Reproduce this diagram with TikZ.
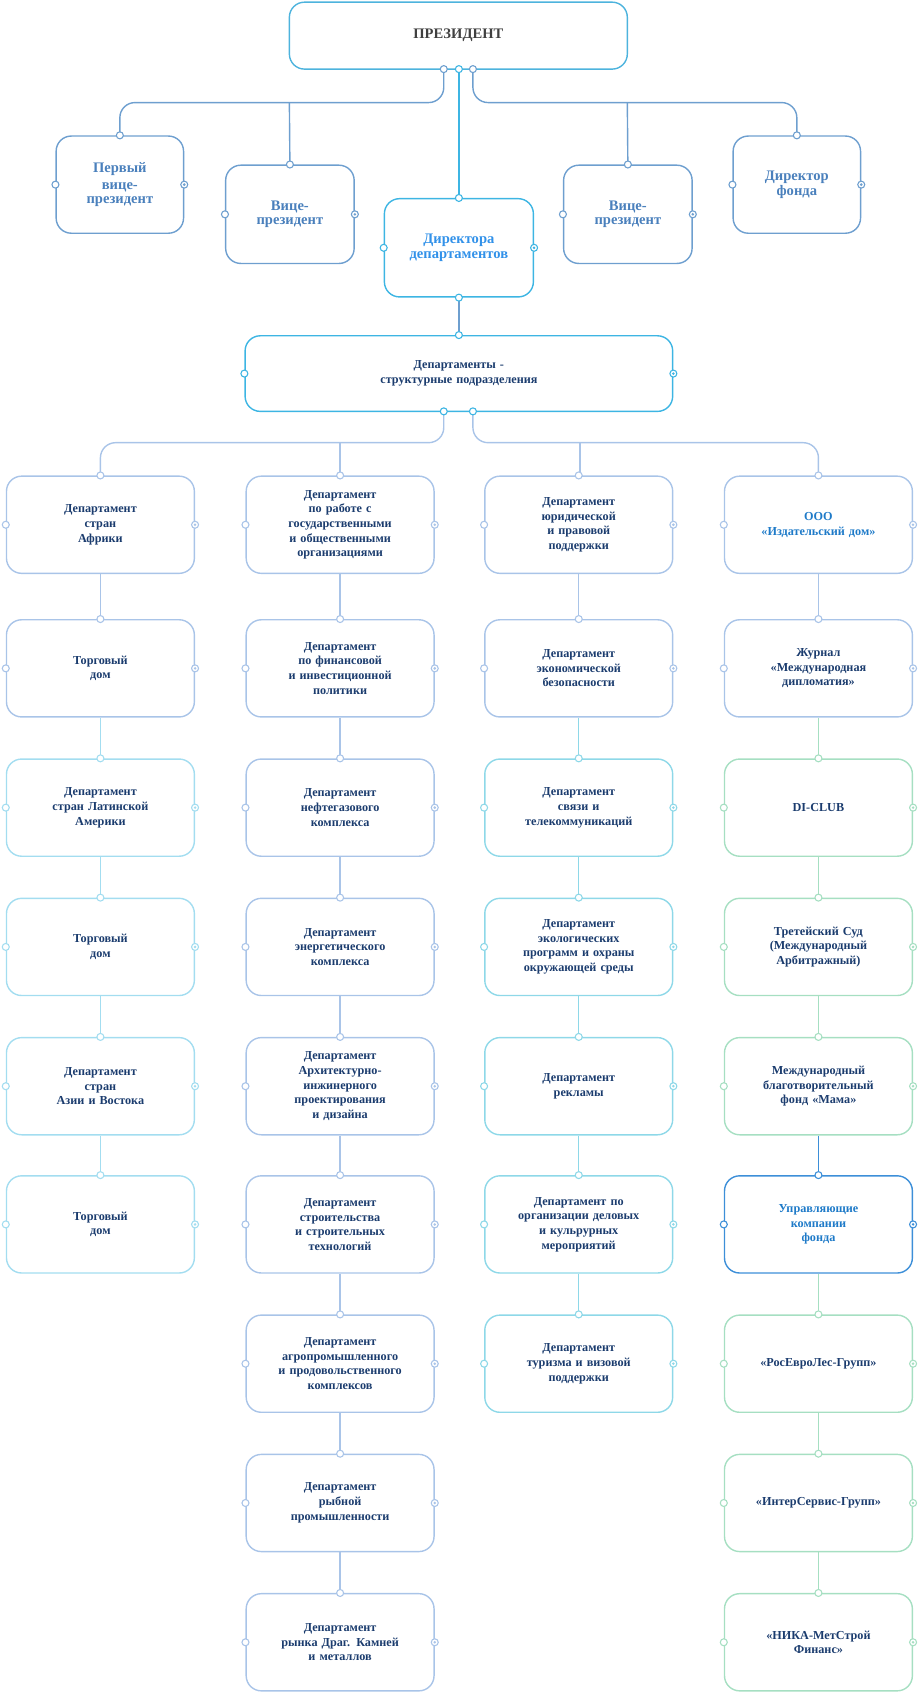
\documentclass[tikz,border=0pt]{standalone}
\usepackage{fontspec}
\setmainfont{Liberation Serif}
\definecolor{cp}{HTML}{4DB3DD}
\definecolor{cs}{HTML}{6E9FCF}
\definecolor{cd}{HTML}{3DB5E3}
\definecolor{cb}{HTML}{A9C4E8}
\definecolor{cy}{HTML}{A3DDF0}
\definecolor{cc}{HTML}{8ED8E8}
\definecolor{cg}{HTML}{A6DFC2}
\definecolor{cu}{HTML}{3D8FD8}
\definecolor{tn}{HTML}{1B3C6E}
\definecolor{ts}{HTML}{4A80BC}
\definecolor{tb}{HTML}{1E7AC8}
\tikzset{
 box/.style={draw=#1, line width=1.3pt, rounded corners=14pt, align=center, inner sep=2pt,
   font=\bfseries\fontsize{11.3}{13.6}\selectfont, text=tn},
 dot/.style={circle, draw=#1, fill=white, line width=1pt, inner sep=0pt, minimum size=6.5pt},
 tdot/.style={circle, draw=#1, fill=white, line width=1pt, inner sep=0pt, minimum size=6.5pt,
   path picture={\fill[#1] (path picture bounding box.center) circle (1.3pt);}},
 ln/.style={draw=#1, line width=1.3pt, rounded corners=14pt}
}
\newcommand\bx[7]{% name, x, y, w, h, color, text
 \node[box=#6, minimum width=#4pt, minimum height=#5pt, text width=#4pt-6pt] (#1) at (#2,#3) {#7};
 \node[dot=#6] at (#1.west) {};
 \node[tdot=#6] at (#1.east) {};
}
\begin{document}
\begin{tikzpicture}[x=1pt,y=-1pt]
\useasboundingbox (0,0) rectangle (852,1568);
% president
\node[box=cp, minimum width=313pt, minimum height=62pt, font=\bfseries\fontsize{13.5}{15}\selectfont, text=black!75] (pres) at (424.5,33) {ПРЕЗИДЕНТ};
\coordinate (pl) at (411,64); \coordinate (pm) at (425,64); \coordinate (pr) at (438,64);
% row 2
\bx{vp1}{111}{171}{118}{90}{cs}{\textcolor{ts}{\fontsize{13.5}{15.5}\selectfont Первый\\вице-\\президент}}
\bx{vp2}{268.5}{198.5}{119}{91}{cs}{\textcolor{ts}{\fontsize{13.5}{15.5}\selectfont Вице-\\президент}}
\bx{dir}{425}{229.5}{138}{91}{cd}{\textcolor{cd!80!blue}{\fontsize{13.5}{15.5}\selectfont Директора\\департаментов}}
\bx{vp3}{581.5}{198.5}{119}{91}{cs}{\textcolor{ts}{\fontsize{13.5}{15.5}\selectfont Вице-\\президент}}
\bx{fd}{738}{171}{118}{90}{cs}{\textcolor{ts}{\fontsize{13.5}{15.5}\selectfont Директор\\фонда}}
\draw[ln=cs] (pl) |- (111,95) -- (vp1.north);
\draw[ln=cs] (268,95) -- (vp2.north);
\draw[ln=cs] (pr) |- (738,95) -- (fd.north);
\draw[ln=cs] (581,95) -- (vp3.north);
\draw[ln=cd] (pm) -- (dir.north);
\bx{deps}{425}{346}{396}{70}{cd}{Департаменты -\\структурные подразделения}
\draw[ln=cs] (dir.south) -- (deps.north);
\coordinate (dl) at (411,381); \coordinate (dr) at (438,381);
\draw[ln=cb] (dl) |- (93,410) -- (93,441);
\draw[ln=cb] (315,410) -- (315,441);
\draw[ln=cb] (dr) |- (758,410) -- (758,441);
\draw[ln=cb] (537,410) -- (537,441);
% columns
\newcommand\col[3]{% prefix, x, list
 \foreach \t/\c/\y [count=\i] in {#3} {
   \bx{#1\i}{#2}{\y}{174}{90}{\c}{\t}
 }
}
\col{a}{93}{
 {Департамент\\стран\\Африки}/cb/486,
 {Торговый\\дом}/cb/619,
 {Департамент\\стран Латинской\\Америки}/cy/748,
 {Торговый\\дом}/cy/877,
 {Департамент\\стран\\Азии и Востока}/cy/1006,
 {Торговый\\дом}/cy/1134}
\col{b}{315}{
 {Департамент\\по работе с\\государственными\\и общественными\\организациями}/cb/486,
 {Департамент\\по финансовой\\и инвестиционной\\политики}/cb/619,
 {Департамент\\нефтегазового\\комплекса}/cb/748,
 {Департамент\\энергетического\\комплекса}/cb/877,
 {Департамент\\Архитектурно-\\инжинерного\\проектирования\\и дизайна}/cb/1006,
 {Департамент\\строительства\\и строительных\\технологий}/cb/1134,
 {Департамент\\агропромышленного\\и продовольственного\\комплексов}/cb/1263,
 {Департамент\\рыбной\\промышленности}/cb/1392,
 {Департамент\\рынка Драг. Камней\\и металлов}/cb/1521}
\col{c}{536}{
 {Департамент\\юридической\\и правовой\\поддержки}/cb/486,
 {Департамент\\экономической\\безопасности}/cb/619,
 {Департамент\\связи и\\телекоммуникаций}/cc/748,
 {Департамент\\экологических\\программ и охраны\\окружающей среды}/cc/877,
 {Департамент\\рекламы}/cc/1006,
 {Департамент по\\организации деловых\\и кульрурных\\мероприятий}/cc/1134,
 {Департамент\\туризма и визовой\\поддержки}/cc/1263}
\col{d}{758}{
 {\textcolor{tb}{ООО\\«Издательский дом»}}/cb/486,
 {Журнал\\«Международная\\дипломатия»}/cb/619,
 {DI-CLUB}/cg/748,
 {Третейский Суд\\(Международный\\Арбитражный)}/cg/877,
 {Международный\\благотворительный\\фонд «Мама»}/cg/1006,
 {\textcolor{tb}{Управляющие\\компании\\фонда}}/cu/1134,
 {«РосЕвроЛес-Групп»}/cg/1263,
 {«ИнтерСервис-Групп»}/cg/1392,
 {«НИКА-МетСтрой\\Финанс»}/cg/1521}
% vertical connectors with top dots
\newcommand\vc[3]{\draw[ln=#3] (#1.south) -- (#2.north); \node[dot=#3] at (#2.north) {};}
\foreach \i [count=\j from 2] in {1,...,5} {
  \pgfmathsetmacro\cc{\j>2 ? "cy" : "cb"}
  \vc{a\i}{a\j}{\cc}
}
\node[dot=cb] at (a1.north) {};
\foreach \i [count=\j from 2] in {1,...,8} { \vc{b\i}{b\j}{cb} }
\node[dot=cb] at (b1.north) {};
\foreach \i [count=\j from 2] in {1,...,6} {
  \pgfmathsetmacro\cc{\j>2 ? "cc" : "cb"}
  \vc{c\i}{c\j}{\cc}
}
\node[dot=cb] at (c1.north) {};
\node[dot=cb] at (d1.north) {};
\vc{d1}{d2}{cb}
\vc{d2}{d3}{cg}
\vc{d3}{d4}{cg}
\vc{d4}{d5}{cg}
\vc{d5}{d6}{cu}
\vc{d6}{d7}{cg}
\vc{d7}{d8}{cg}
\vc{d8}{d9}{cg}
% top dots of upper nodes
\foreach \n in {vp1,vp2,vp3,fd} { \node[dot=cs] at (\n.north) {}; }
\node[dot=cd] at (dir.north) {}; \node[dot=cd] at (dir.south) {};
\node[dot=cd] at (deps.north) {};
\node[dot=cs] at (pl) {}; \node[dot=cd] at (pm) {}; \node[dot=cs] at (pr) {};
\node[dot=cd] at (dl) {}; \node[dot=cd] at (dr) {};
\end{tikzpicture}
\end{document}
